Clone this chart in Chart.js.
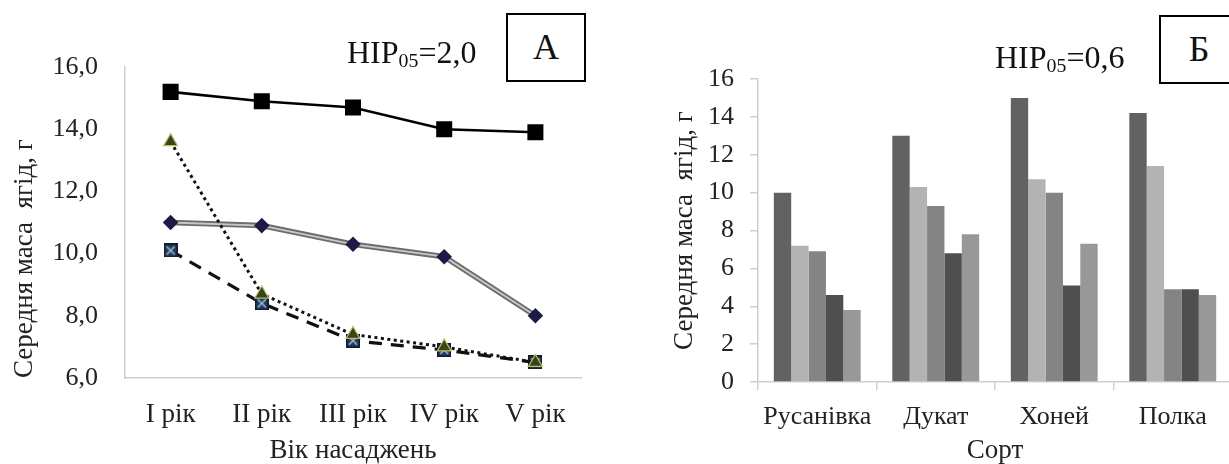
<!DOCTYPE html>
<html lang="uk">
<head>
<meta charset="utf-8">
<title>Середня маса ягід</title>
<script src="https://cdn.jsdelivr.net/npm/chart.js@4.4.1/dist/chart.umd.min.js"></script>
<style>
  html, body { margin: 0; padding: 0; background: #fff; }
  body { width: 1229px; height: 464px; overflow: hidden; position: relative; font-family: "Liberation Serif", "Times New Roman", serif; color: #111; }
  #chartA { position: absolute; left: 0; top: 0; }
  #chartB { position: absolute; left: 620px; top: 0; }
  .hip { position: absolute; font-size: 32px; line-height: 1; white-space: nowrap; }
  .hip sub { font-size: 62%; vertical-align: -0.18em; line-height: 0; }
  .tag { position: absolute; width: 76px; height: 65px; border: 2px solid #000; background: #fff;
         font-size: 36px; line-height: 65px; text-align: center; }
</style>
</head>
<body>
<canvas id="chartA" width="620" height="464"></canvas>
<canvas id="chartB" width="640" height="464"></canvas>

<div class="hip" style="left:347px; top:36px;">HIP<sub>05</sub>=2,0</div>
<div class="tag" style="left:506px; top:13px;">А</div>
<div class="hip" style="left:995px; top:41px;">HIP<sub>05</sub>=0,6</div>
<div class="tag" style="left:1159px; top:15px;">Б</div>

<script>
// --- A: berry mass by plantation age ---
const ageLabels = ['I рік', 'II рік', 'III рік', 'IV рік', 'V рік'];
const seriesSquare = [15.2, 14.9, 14.7, 14.0, 13.9];
const seriesDiamond = [11.0, 10.9, 10.3, 9.9, 8.0];
const seriesTriangle = [13.6, 8.7, 7.4, 7.0, 6.5];
const seriesCrossBox = [10.1, 8.4, 7.2, 6.9, 6.5];
const ageTicks = [6, 8, 10, 12, 14, 16];

// --- Б: berry mass by variety ---
const varieties = ['Русанівка', 'Дукат', 'Хоней', 'Полка'];
const barSeries = [
  [10.0, 13.0, 15.0, 14.2],
  [7.2, 10.3, 10.7, 11.4],
  [6.9, 9.3, 10.0, 4.9],
  [4.6, 6.8, 5.1, 4.9],
  [3.8, 7.8, 7.3, 4.6]
];
const barColors = ['#626262', '#b3b3b3', '#848484', '#4f4f4f', '#989898'];
const varietyTicks = [0, 2, 4, 6, 8, 10, 12, 14, 16];

const yTitle = 'Середня маса  ягід, г';
const textColor = '#222';
const axisColor = '#cfcfcf';
const serif = 'Liberation Serif';

const fnt = (size, lineHeight = 1.2) => ({ family: serif, size, lineHeight, style: 'normal', weight: 'normal' });

Chart.defaults.font.family = serif;
Chart.defaults.color = textColor;

// navy square with a light cross, used as a marker
function crossBox(size) {
  const c = document.createElement('canvas');
  c.width = c.height = size;
  const g = c.getContext('2d');
  g.fillStyle = '#263c5f';
  g.fillRect(0, 0, size, size);
  g.strokeStyle = '#111a2b';
  g.lineWidth = 1.5;
  g.strokeRect(0.75, 0.75, size - 1.5, size - 1.5);
  g.strokeStyle = '#a9bddb';
  g.lineWidth = 1.4;
  g.beginPath();
  g.moveTo(3, 3); g.lineTo(size - 3, size - 3);
  g.moveTo(size - 3, 3); g.lineTo(3, size - 3);
  g.stroke();
  return c;
}

const chartA = new Chart(document.getElementById('chartA'), {
  type: 'line',
  data: {
    labels: ageLabels,
    datasets: [
      {
        data: seriesSquare,
        borderColor: '#000', borderWidth: 2.6,
        pointStyle: 'rect', pointRadius: 9.5,
        pointBackgroundColor: '#000', pointBorderColor: '#000',
        order: 1
      },
      {
        data: seriesTriangle,
        borderColor: '#111', borderWidth: 3, borderDash: [3, 3.5],
        pointStyle: 'triangle', pointRadius: 8,
        pointBackgroundColor: '#36461a', pointBorderColor: '#b9bf63', pointBorderWidth: 1.2,
        order: 2
      },
      {
        data: seriesCrossBox,
        borderColor: '#111', borderWidth: 3.2, borderDash: [13, 9],
        pointStyle: crossBox(14), pointRadius: 7,
        order: 3
      },
      {
        // light core of the double grey line
        data: seriesDiamond,
        borderColor: '#c8c8c8', borderWidth: 1.8,
        pointStyle: 'rectRot', pointRadius: 6.5,
        pointBackgroundColor: '#1b1b45', pointBorderColor: '#1b1b45',
        order: 4
      },
      {
        data: seriesDiamond,
        borderColor: '#6c6c6c', borderWidth: 5.5,
        pointRadius: 0,
        order: 5
      }
    ]
  },
  options: {
    responsive: false,
    animation: false,
    devicePixelRatio: 1,
    layout: { padding: { top: 67, right: 39, bottom: 0, left: 0 } },
    plugins: { legend: { display: false }, tooltip: { enabled: false } },
    elements: { line: { tension: 0 } },
    scales: {
      x: {
        type: 'category',
        offset: true,
        grid: { display: false, drawTicks: false },
        border: { display: true, color: axisColor, width: 1.5 },
        ticks: { padding: 21, font: fnt(27), color: textColor, maxRotation: 0 },
        title: { display: true, text: 'Вік насаджень', font: fnt(27, 1), padding: 0, color: textColor },
        afterFit: s => { s.height = 86; }
      },
      y: {
        min: 6, max: 16,
        afterBuildTicks: s => { s.ticks = ageTicks.map(v => ({ value: v })); },
        grid: { display: false, drawTicks: false },
        border: { display: true, color: axisColor, width: 1.5 },
        ticks: {
          padding: 27, font: fnt(26), color: textColor,
          callback: v => v.toFixed(1).replace('.', ',')
        },
        title: {
          display: true, text: yTitle, align: 'start',
          font: fnt(27), padding: { top: 9, bottom: 0 }, color: textColor
        },
        afterFit: s => { s.width = 125; }
      }
    }
  }
});

const chartB = new Chart(document.getElementById('chartB'), {
  type: 'bar',
  data: {
    labels: varieties,
    datasets: barSeries.map((vals, i) => ({
      data: vals,
      backgroundColor: barColors[i],
      borderWidth: 0,
      barPercentage: 1.0,
      categoryPercentage: 0.733
    }))
  },
  options: {
    responsive: false,
    animation: false,
    devicePixelRatio: 1,
    layout: { padding: { top: 79, right: 28, bottom: 0, left: 0 } },
    plugins: { legend: { display: false }, tooltip: { enabled: false } },
    scales: {
      x: {
        grid: { offset: true, drawOnChartArea: false, drawTicks: true, tickLength: 8, color: axisColor, lineWidth: 1.5 },
        border: { display: true, color: axisColor, width: 1.5 },
        ticks: { padding: 12, font: fnt(26), color: textColor, maxRotation: 0 },
        title: { display: true, text: 'Сорт', font: fnt(27, 1), padding: 0, color: textColor },
        afterFit: s => { s.height = 82; }
      },
      y: {
        min: 0, max: 16,
        afterBuildTicks: s => { s.ticks = varietyTicks.map(v => ({ value: v })); },
        grid: { drawOnChartArea: false, drawTicks: true, tickLength: 8, color: axisColor, lineWidth: 1.5 },
        border: { display: true, color: axisColor, width: 1.5 },
        ticks: { padding: 16, font: fnt(26), color: textColor },
        title: {
          display: true, text: yTitle,
          font: fnt(27), padding: { top: 49, bottom: 0 }, color: textColor
        },
        afterFit: s => { s.width = 138; }
      }
    }
  }
});

// redraw once the serif face is ready for canvas text
document.fonts.load('26px "Liberation Serif"').then(() => {
  chartA.update();
  chartB.update();
});
</script>
</body>
</html>
